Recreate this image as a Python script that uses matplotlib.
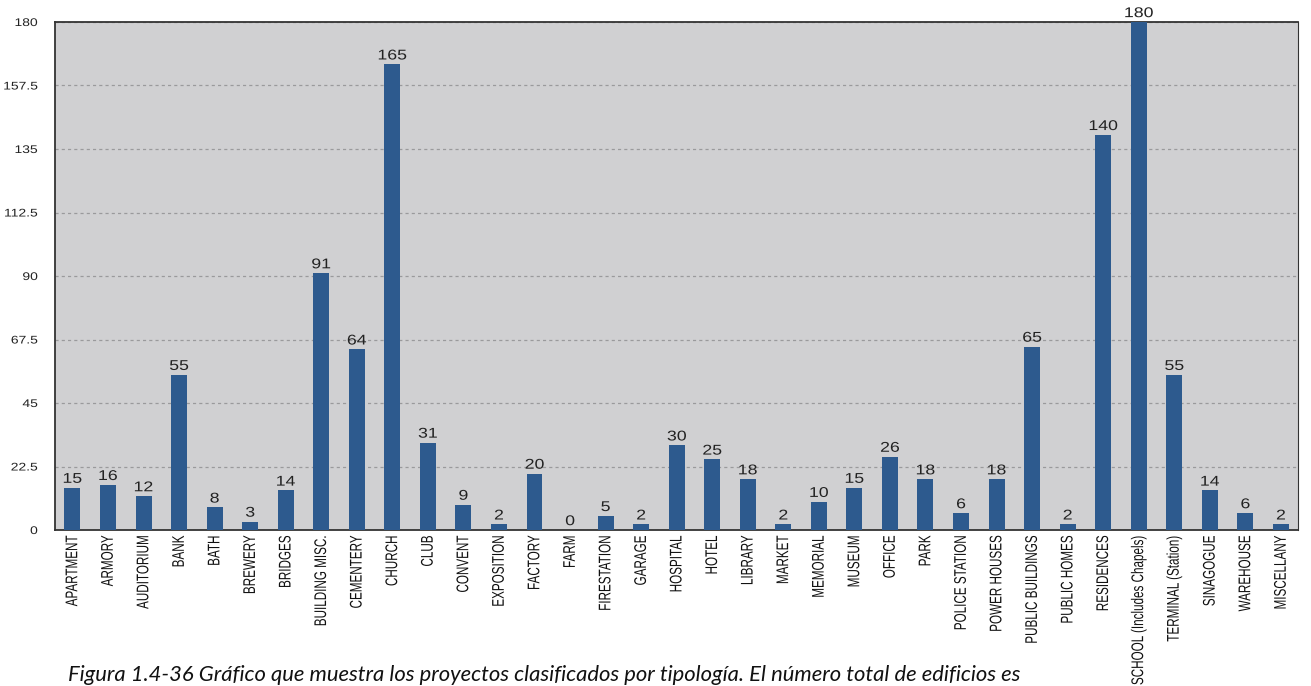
import matplotlib
matplotlib.use("Agg")
import matplotlib.pyplot as plt
from matplotlib.patheffects import AbstractPathEffect
from matplotlib.transforms import Affine2D

categories = [
    "APARTMENT", "ARMORY", "AUDITORIUM", "BANK", "BATH", "BREWERY", "BRIDGES",
    "BUILDING MISC.", "CEMENTERY", "CHURCH", "CLUB", "CONVENT", "EXPOSITION",
    "FACTORY", "FARM", "FIRESTATION", "GARAGE", "HOSPITAL", "HOTEL", "LIBRARY",
    "MARKET", "MEMORIAL", "MUSEUM", "OFFICE", "PARK", "POLICE STATION",
    "POWER HOUSES", "PUBLIC BUILDINGS", "PUBLIC HOMES", "RESIDENCES",
    "SCHOOL (Includes Chapels)", "TERMINAL (Station)", "SINAGOGUE", "WAREHOUSE",
    "MISCELLANY",
]
counts = [15, 16, 12, 55, 8, 3, 14, 91, 64, 165, 31, 9, 2, 20, 0, 5, 2, 30, 25,
          18, 2, 10, 15, 26, 18, 6, 18, 65, 2, 140, 180, 55, 14, 6, 2]
yticks = [0, 22.5, 45, 67.5, 90, 112.5, 135, 157.5, 180]
ytick_labels = ["0", "22.5", "45", "67.5", "90", "112.5", "135", "157.5", "180"]
caption = ("Figura 1.4-36 Gráfico que muestra los proyectos clasificados por "
           "tipología. El número total de edificios es")


class Stretch(AbstractPathEffect):
    """Scale glyph outlines in their own frame (sx along the text, sy across it)."""

    def __init__(self, sx=1.0, sy=1.0, anchor="center"):
        super().__init__()
        self.sx, self.sy, self.anchor = sx, sy, anchor

    def draw_path(self, renderer, gc, tpath, affine, rgbFace=None):
        ext = tpath.get_extents()
        if self.anchor == "right":
            cx = ext.x1
        elif self.anchor == "left":
            cx = ext.x0
        else:
            cx = 0.5 * (ext.x0 + ext.x1)
        cy = 0.5 * (ext.y0 + ext.y1)
        local = (Affine2D().translate(-cx, -cy)
                 .scale(self.sx, self.sy).translate(cx, cy))
        renderer.draw_path(gc, tpath, local + affine, rgbFace)


fig = plt.figure(figsize=(13.11, 6.86), dpi=100)
ax = fig.add_axes([55 / 1311, 1 - 530 / 686, (1298 - 55) / 1311, (530 - 22) / 686])
ax.set_facecolor("#d0d0d2")

x = list(range(len(categories)))
n = len(categories)
ax.bar(x, counts, width=0.45, color="#2d5a8e", zorder=3)

for xi, v in zip(x, counts):
    ax.annotate(str(v), (xi, v), xytext=(0, 3.5), textcoords="offset points",
                ha="center", va="baseline", fontsize=10.2, family="Liberation Sans",
                color="#222222", zorder=4,
                path_effects=[Stretch(sx=1.25, anchor="center")])

ax.set_ylim(0, 180)
ax.set_xlim(-0.49, n - 1 + 0.48)
ax.set_yticks(yticks)
ax.set_yticklabels(ytick_labels, family="Liberation Sans", fontsize=8,
                   color="#222222")
for lab in ax.get_yticklabels():
    lab.set_path_effects([Stretch(sx=1.25, anchor="right")])
ax.yaxis.grid(True, linestyle=(0, (2.5, 2.5)), color="#9a9a9c", linewidth=0.9,
              zorder=1)
ax.tick_params(axis="y", length=0, pad=12.5)

ax.set_xticks(x)
ax.set_xticklabels(categories, rotation=90, family="Liberation Sans",
                   fontsize=8.4, color="#111111", va="top")
for lab in ax.get_xticklabels():
    lab.set_path_effects([Stretch(sy=1.45)])
ax.tick_params(axis="x", length=0, pad=4)

for side in ["left", "top", "right", "bottom"]:
    ax.spines[side].set_color("#333333")
    ax.spines[side].set_linewidth(1.3)
ax.spines["right"].set_linewidth(0.8)

fig.text(68 / 1311, 1 - 681 / 686, caption, fontsize=15.8, style="italic",
         family="Lato", color="#111111", ha="left", va="baseline")

fig.savefig("out.png", dpi=100, facecolor="white")
